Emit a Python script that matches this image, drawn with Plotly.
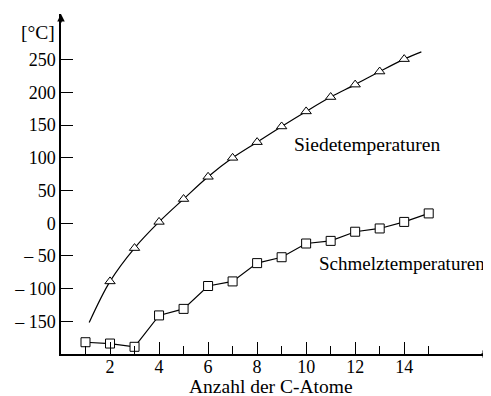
import plotly.graph_objects as go

# Data
n_atoms = list(range(1, 16))
siede_x = [2, 3, 4, 5, 6, 7, 8, 9, 10, 11, 12, 13, 14]
siede_y = [-89, -38, 2, 37, 71, 100, 124, 148, 171, 193, 212, 232, 251]
siede_curve_x = [1.15] + siede_x + [14.7]
siede_curve_y = [-152] + siede_y + [262]
schmelz_y = [-182, -184, -189, -141, -131, -96, -89, -61, -52, -31, -27, -13, -8, 2, 15]

y_ticks = [250, 200, 150, 100, 50, 0, -50, -100, -150]
y_ticktext = ["250", "200", "150", "100", "50", "0", "– 50", "– 100", "– 150"]
x_major = [2, 4, 6, 8, 10, 12, 14]
x_minor = [1, 3, 5, 7, 9, 11, 13, 15]

FONT = "Liberation Serif"
fig = go.Figure()

fig.add_trace(go.Scatter(x=siede_curve_x, y=siede_curve_y, mode="lines",
                         line=dict(color="black", width=1.2, shape="spline"),
                         hoverinfo="skip", showlegend=False))
fig.add_trace(go.Scatter(x=siede_x, y=siede_y, mode="markers",
                         marker=dict(symbol="triangle-up", size=9, color="white",
                                     line=dict(color="black", width=1)),
                         showlegend=False))
fig.add_trace(go.Scatter(x=n_atoms, y=schmelz_y, mode="lines+markers",
                         line=dict(color="black", width=1.2),
                         marker=dict(symbol="square", size=9, color="white",
                                     line=dict(color="black", width=1)),
                         showlegend=False))

# page body has an 8px default margin, so the figure is 8px smaller
fig.update_layout(
    width=483, height=388,
    margin=dict(l=53, r=1, t=6, b=42),
    paper_bgcolor="white", plot_bgcolor="white",
    font=dict(family=FONT, size=18, color="black"),
    xaxis=dict(range=[0, 17.5], showgrid=False, zeroline=False, automargin=False,
               showline=True, linecolor="black", linewidth=1.5,
               tickmode="array", tickvals=x_major, ticktext=[str(v) for v in x_major],
               ticks="inside", ticklen=12, tickwidth=1, tickcolor="black",
               ticklabelstandoff=-4,
               minor=dict(tickmode="array", tickvals=x_minor, ticks="inside",
                          ticklen=8, tickwidth=1, tickcolor="black"),
               tickfont=dict(family=FONT, size=18)),
    yaxis=dict(range=[-200, 320], showgrid=False, zeroline=False, automargin=False,
               showline=True, linecolor="black", linewidth=1.5,
               tickmode="array", tickvals=y_ticks, ticktext=y_ticktext,
               ticks="inside", ticklen=12, tickwidth=1, tickcolor="black",
               tickfont=dict(family=FONT, size=18)),
)

fig.add_annotation(x=9.43, y=120, text="Siedetemperaturen", showarrow=False,
                   xanchor="left", yanchor="middle", font=dict(family=FONT, size=19.5))
fig.add_annotation(x=10.45, y=-62, text="Schmelztemperaturen", showarrow=False,
                   xanchor="left", yanchor="middle", font=dict(family=FONT, size=19))
fig.add_annotation(x=8.57, y=-0.097, xref="x", yref="paper", text="Anzahl der C-Atome",
                   showarrow=False, xanchor="center", yanchor="middle",
                   font=dict(family=FONT, size=19.5))
fig.add_annotation(x=-0.054, y=291, xref="paper", yref="y", text="[°C]",
                   showarrow=False, xanchor="center", yanchor="middle",
                   font=dict(family=FONT, size=19.5))
# axis arrows
fig.add_annotation(x=0, y=320, ax=0, ay=10, showarrow=True, arrowhead=2,
                   arrowsize=1, arrowwidth=1.5, arrowcolor="black", text="")
fig.add_annotation(x=17.5, y=-200, ax=-10, ay=0, showarrow=True, arrowhead=2,
                   arrowsize=1, arrowwidth=1.5, arrowcolor="black", text="")

fig.write_html("out.html")
